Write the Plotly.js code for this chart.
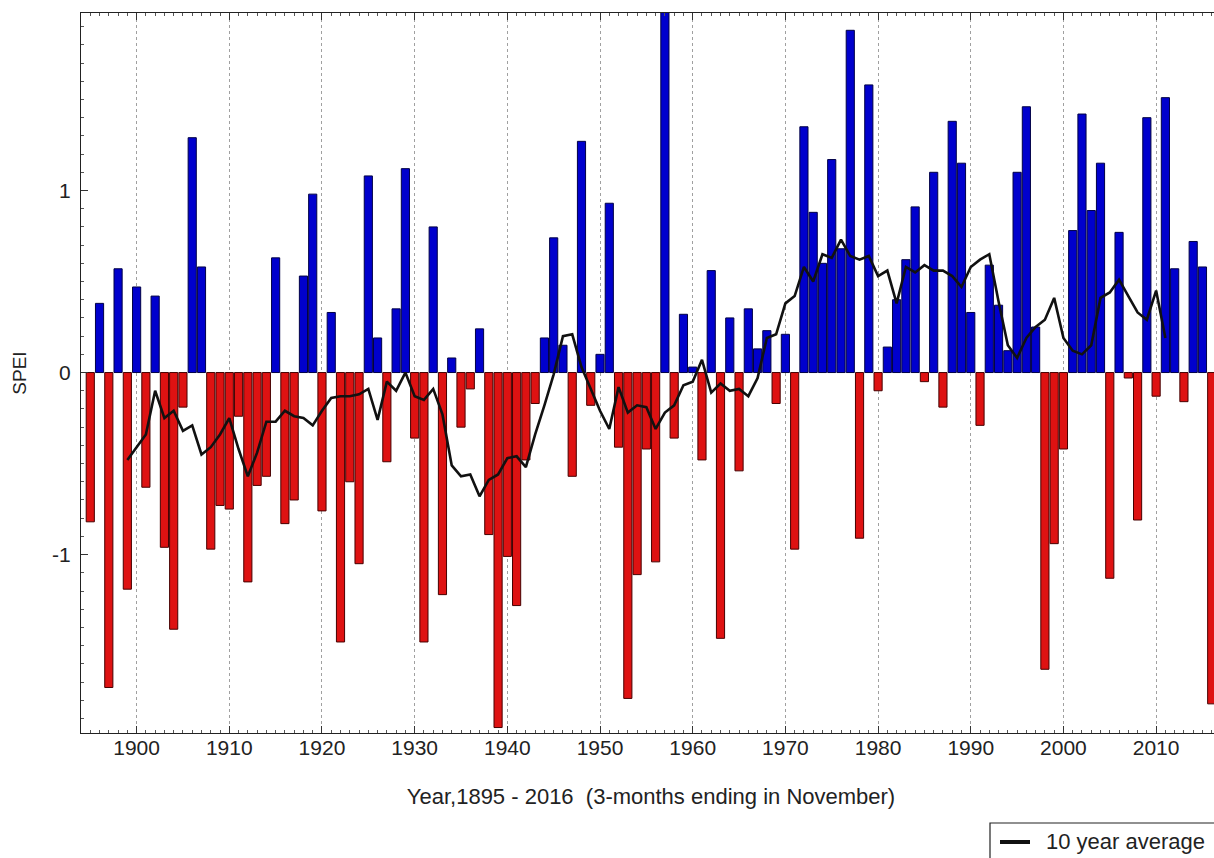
<!DOCTYPE html>
<html>
<head>
<meta charset="utf-8">
<script src="https://cdn.plot.ly/plotly-3.0.1.min.js"></script>
<style>
  html, body { margin: 0; padding: 0; overflow: hidden; background: #fff; }
  #chart { width: 1260px; height: 858px; }
</style>
</head>
<body>
<div id="chart"></div>
<script>
// SPEI, 3 months ending in November, one value per year 1895-2016
const firstYear = 1895;
const spei = [
  -0.82, 0.38, -1.73, 0.57, -1.19, 0.47, -0.63, 0.42, -0.96, -1.41,   // 1895-1904
  -0.19, 1.29, 0.58, -0.97, -0.73, -0.75, -0.24, -1.15, -0.62, -0.57,  // 1905-1914
  0.63, -0.83, -0.70, 0.53, 0.98, -0.76, 0.33, -1.48, -0.60, -1.05,    // 1915-1924
  1.08, 0.19, -0.49, 0.35, 1.12, -0.36, -1.48, 0.80, -1.22, 0.08,      // 1925-1934
  -0.30, -0.09, 0.24, -0.89, -1.95, -1.01, -1.28, -0.48, -0.17, 0.19,  // 1935-1944
  0.74, 0.15, -0.57, 1.27, -0.18, 0.10, 0.93, -0.41, -1.79, -1.11,     // 1945-1954
  -0.42, -1.04, 2.10, -0.36, 0.32, 0.03, -0.48, 0.56, -1.46, 0.30,     // 1955-1964
  -0.54, 0.35, 0.13, 0.23, -0.17, 0.21, -0.97, 1.35, 0.88, 0.60,       // 1965-1974
  1.17, 0.68, 1.88, -0.91, 1.58, -0.10, 0.14, 0.40, 0.62, 0.91,        // 1975-1984
  -0.05, 1.10, -0.19, 1.38, 1.15, 0.33, -0.29, 0.59, 0.37, 0.12,       // 1985-1994
  1.10, 1.46, 0.25, -1.63, -0.94, -0.42, 0.78, 1.42, 0.89, 1.15,       // 1995-2004
  -1.13, 0.77, -0.03, -0.81, 1.40, -0.13, 1.51, 0.57, -0.16, 0.72,     // 2005-2014
  0.58, -1.82                                                          // 2015-2016
];

// 10 year average, 1899-2011
const avgFirstYear = 1899;
const avg10 = [
  -0.48, -0.41, -0.34, -0.10, -0.25, -0.21, -0.32, -0.29, -0.45, -0.41, // 1899-1908
  -0.34, -0.25, -0.42, -0.57, -0.44, -0.27, -0.27, -0.21, -0.24, -0.25, // 1909-1918
  -0.29, -0.21, -0.14, -0.13, -0.13, -0.12, -0.09, -0.26, -0.05, -0.10, // 1919-1928
  0.00, -0.13, -0.15, -0.09, -0.23, -0.51, -0.57, -0.56, -0.68, -0.59,  // 1929-1938
  -0.56, -0.47, -0.46, -0.52, -0.34, -0.18, -0.01, 0.20, 0.21, 0.03,    // 1939-1948
  -0.09, -0.21, -0.31, -0.08, -0.22, -0.18, -0.19, -0.31, -0.22, -0.18, // 1949-1958
  -0.07, -0.05, 0.07, -0.11, -0.06, -0.10, -0.09, -0.13, -0.03, 0.19,   // 1959-1968
  0.21, 0.38, 0.42, 0.58, 0.50, 0.65, 0.63, 0.73, 0.64, 0.62,           // 1969-1978
  0.64, 0.53, 0.56, 0.38, 0.58, 0.55, 0.59, 0.56, 0.56, 0.53,           // 1979-1988
  0.47, 0.58, 0.62, 0.65, 0.39, 0.15, 0.08, 0.19, 0.25, 0.29,           // 1989-1998
  0.41, 0.19, 0.12, 0.10, 0.15, 0.41, 0.44, 0.51, 0.42, 0.33,           // 1999-2008
  0.29, 0.45, 0.19                                                      // 2009-2011
];
const avgLabel = '10 year average';

const decadeTicks = [1900, 1910, 1920, 1930, 1940, 1950, 1960, 1970, 1980, 1990, 2000, 2010];
const speiTicks = [-1, 0, 1];
const speiTickText = ['-1', '0', '1'];

const years = spei.map((_, i) => firstYear + i);
const avgYears = avg10.map((_, i) => avgFirstYear + i);

const WET = 'rgb(0,0,205)', WET_EDGE = 'rgb(0,0,70)';
const DRY = 'rgb(222,18,18)', DRY_EDGE = 'rgb(70,0,0)';
const INK = '#222';
const FONT = 'Liberation Sans, Arial, sans-serif';

const barTrace = {
  type: 'bar',
  x: years,
  y: spei,
  width: 0.88,
  marker: {
    color: spei.map(v => v >= 0 ? WET : DRY),
    line: { color: spei.map(v => v >= 0 ? WET_EDGE : DRY_EDGE), width: 1 }
  },
  showlegend: false,
  hoverinfo: 'x+y'
};

const avgTrace = {
  type: 'scatter',
  mode: 'lines',
  name: avgLabel,
  x: avgYears,
  y: avg10,
  line: { color: '#111', width: 2.6 },
  showlegend: false
};

// Key box below the plot, in paper coordinates (plot spans 1140 x 720 px)
const PW = 1140, PH = 720;
const px = v => v / PW;
const py = v => v / PH;
const keyLeft = px(909), keyTop = -py(90), keyRowY = -py(109);

const layout = {
  width: 1260,
  height: 858,
  margin: { l: 81, r: 39, t: 13, b: 125 },
  paper_bgcolor: '#fff',
  plot_bgcolor: '#fff',
  font: { family: FONT, color: INK, size: 21 },
  bargap: 0,
  showlegend: false,
  xaxis: {
    range: [1894, 2017],
    tickmode: 'array',
    tickvals: decadeTicks,
    ticktext: decadeTicks.map(String),
    ticks: 'inside',
    ticklen: 7,
    tickcolor: '#333',
    minor: { ticks: 'inside', dtick: 1, tick0: 1900, ticklen: 3, tickcolor: '#555', showgrid: false },
    showline: true,
    linecolor: INK,
    linewidth: 1.2,
    mirror: 'allticks',
    showgrid: true,
    gridcolor: '#a0a0a0',
    griddash: 'dot',
    gridwidth: 1,
    zeroline: false,
    ticklabelstandoff: -4,
    tickfont: { size: 21, color: INK },
    title: {
      text: 'Year,1895 - 2016  (3-months ending in November)',
      font: { size: 22, color: INK },
      standoff: 30
    }
  },
  yaxis: {
    range: [-1.98, 1.975],
    tickmode: 'array',
    tickvals: speiTicks,
    ticktext: speiTickText,
    ticks: 'inside',
    ticklen: 7,
    tickcolor: '#333',
    minor: { ticks: 'inside', dtick: 0.1, tick0: 0, ticklen: 3, tickcolor: '#555', showgrid: false },
    showline: true,
    linecolor: INK,
    linewidth: 1.2,
    mirror: 'allticks',
    showgrid: false,
    zeroline: false,
    ticklabelstandoff: 5,
    tickfont: { size: 21, color: INK },
    title: {
      text: 'SPEI',
      font: { size: 19, color: INK },
      standoff: 20
    }
  },
  shapes: [
    {
      type: 'rect', xref: 'paper', yref: 'paper',
      x0: keyLeft, x1: px(1180), y0: keyTop, y1: -py(160),
      line: { color: INK, width: 1.2 }, fillcolor: '#fff', layer: 'above'
    },
    {
      type: 'line', xref: 'paper', yref: 'paper',
      x0: keyLeft + px(10), x1: keyLeft + px(40), y0: keyRowY, y1: keyRowY,
      line: { color: '#111', width: 4 }, layer: 'above'
    }
  ],
  annotations: [
    {
      xref: 'paper', yref: 'paper',
      x: keyLeft + px(54), y: keyRowY,
      xanchor: 'left', yanchor: 'middle',
      text: avgLabel, showarrow: false,
      font: { size: 22, color: INK }
    }
  ]
};

Plotly.newPlot('chart', [barTrace, avgTrace], layout, { displayModeBar: false, staticPlot: true });
</script>
</body>
</html>
